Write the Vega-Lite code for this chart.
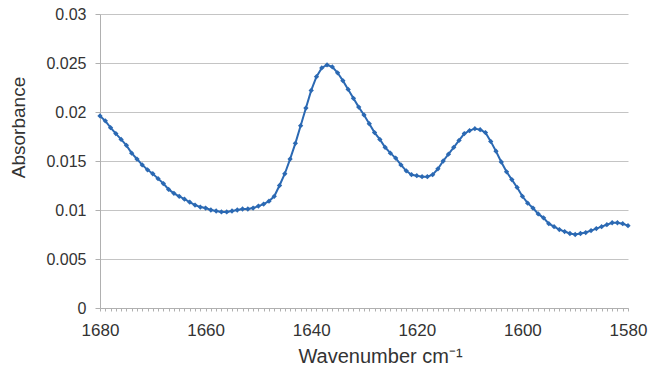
{
  "$schema": "https://vega.github.io/schema/vega-lite/v6.json",
  "width": 528,
  "height": 294,
  "autosize": "none",
  "padding": {"left": 100, "top": 14, "right": 25, "bottom": 68},
  "background": "white",
  "config": {"view": {"stroke": null}, "font": "Liberation Sans"},
  "data": {"values": [
    {"wn": 1680, "abs": 0.0196}, {"wn": 1679, "abs": 0.0191}, {"wn": 1678, "abs": 0.0184}, {"wn": 1677, "abs": 0.0178},
    {"wn": 1676, "abs": 0.0172}, {"wn": 1675, "abs": 0.0166}, {"wn": 1674, "abs": 0.0158}, {"wn": 1673, "abs": 0.0152},
    {"wn": 1672, "abs": 0.0146}, {"wn": 1671, "abs": 0.0141}, {"wn": 1670, "abs": 0.0137}, {"wn": 1669, "abs": 0.0132},
    {"wn": 1668, "abs": 0.0127}, {"wn": 1667, "abs": 0.0121}, {"wn": 1666, "abs": 0.0117}, {"wn": 1665, "abs": 0.0114},
    {"wn": 1664, "abs": 0.0111}, {"wn": 1663, "abs": 0.0108}, {"wn": 1662, "abs": 0.0105}, {"wn": 1661, "abs": 0.0103},
    {"wn": 1660, "abs": 0.0102}, {"wn": 1659, "abs": 0.0100}, {"wn": 1658, "abs": 0.0099}, {"wn": 1657, "abs": 0.0098},
    {"wn": 1656, "abs": 0.0098}, {"wn": 1655, "abs": 0.0099}, {"wn": 1654, "abs": 0.0100}, {"wn": 1653, "abs": 0.0101},
    {"wn": 1652, "abs": 0.0101}, {"wn": 1651, "abs": 0.0102}, {"wn": 1650, "abs": 0.0104}, {"wn": 1649, "abs": 0.0106},
    {"wn": 1648, "abs": 0.0109}, {"wn": 1647, "abs": 0.0114}, {"wn": 1646, "abs": 0.0125}, {"wn": 1645, "abs": 0.0137},
    {"wn": 1644, "abs": 0.0152}, {"wn": 1643, "abs": 0.0168}, {"wn": 1642, "abs": 0.0186}, {"wn": 1641, "abs": 0.0204},
    {"wn": 1640, "abs": 0.0222}, {"wn": 1639, "abs": 0.0236}, {"wn": 1638, "abs": 0.0245}, {"wn": 1637, "abs": 0.0248},
    {"wn": 1636, "abs": 0.0246}, {"wn": 1635, "abs": 0.0240}, {"wn": 1634, "abs": 0.0232}, {"wn": 1633, "abs": 0.0223},
    {"wn": 1632, "abs": 0.0214}, {"wn": 1631, "abs": 0.0205}, {"wn": 1630, "abs": 0.0197}, {"wn": 1629, "abs": 0.0188},
    {"wn": 1628, "abs": 0.0179}, {"wn": 1627, "abs": 0.0172}, {"wn": 1626, "abs": 0.0164}, {"wn": 1625, "abs": 0.0158},
    {"wn": 1624, "abs": 0.0153}, {"wn": 1623, "abs": 0.0146}, {"wn": 1622, "abs": 0.0140}, {"wn": 1621, "abs": 0.0136},
    {"wn": 1620, "abs": 0.0135}, {"wn": 1619, "abs": 0.0134}, {"wn": 1618, "abs": 0.0134}, {"wn": 1617, "abs": 0.0136},
    {"wn": 1616, "abs": 0.0142}, {"wn": 1615, "abs": 0.0150}, {"wn": 1614, "abs": 0.0157}, {"wn": 1613, "abs": 0.0164},
    {"wn": 1612, "abs": 0.0171}, {"wn": 1611, "abs": 0.0178}, {"wn": 1610, "abs": 0.0181}, {"wn": 1609, "abs": 0.0183},
    {"wn": 1608, "abs": 0.0182}, {"wn": 1607, "abs": 0.0179}, {"wn": 1606, "abs": 0.0170}, {"wn": 1605, "abs": 0.0160},
    {"wn": 1604, "abs": 0.0149}, {"wn": 1603, "abs": 0.0139}, {"wn": 1602, "abs": 0.0131}, {"wn": 1601, "abs": 0.0123},
    {"wn": 1600, "abs": 0.0114}, {"wn": 1599, "abs": 0.0107}, {"wn": 1598, "abs": 0.0102}, {"wn": 1597, "abs": 0.0096},
    {"wn": 1596, "abs": 0.0092}, {"wn": 1595, "abs": 0.0086}, {"wn": 1594, "abs": 0.0083}, {"wn": 1593, "abs": 0.0080},
    {"wn": 1592, "abs": 0.0078}, {"wn": 1591, "abs": 0.0076}, {"wn": 1590, "abs": 0.0075}, {"wn": 1589, "abs": 0.0076},
    {"wn": 1588, "abs": 0.0077}, {"wn": 1587, "abs": 0.0079}, {"wn": 1586, "abs": 0.0081}, {"wn": 1585, "abs": 0.0083},
    {"wn": 1584, "abs": 0.0085}, {"wn": 1583, "abs": 0.0087}, {"wn": 1582, "abs": 0.0087}, {"wn": 1581, "abs": 0.0086},
    {"wn": 1580, "abs": 0.0084}
  ]},
  "mark": {"type": "line", "color": "#2B69B3", "strokeWidth": 2,
    "point": {"shape": "diamond", "size": 28, "filled": true, "color": "#2B69B3"}},
  "encoding": {
    "x": {"field": "wn", "type": "quantitative",
      "scale": {"domain": [1680, 1580], "nice": false, "zero": false},
      "axis": {
        "title": "Wavenumber cm⁻¹",
        "values": [1680,1679,1678,1677,1676,1675,1674,1673,1672,1671,1670,1669,1668,1667,1666,1665,1664,1663,1662,1661,1660,1659,1658,1657,1656,1655,1654,1653,1652,1651,1650,1649,1648,1647,1646,1645,1644,1643,1642,1641,1640,1639,1638,1637,1636,1635,1634,1633,1632,1631,1630,1629,1628,1627,1626,1625,1624,1623,1622,1621,1620,1619,1618,1617,1616,1615,1614,1613,1612,1611,1610,1609,1608,1607,1606,1605,1604,1603,1602,1601,1600,1599,1598,1597,1596,1595,1594,1593,1592,1591,1590,1589,1588,1587,1586,1585,1584,1583,1582,1581,1580],
        "labelExpr": "datum.value % 20 === 0 ? datum.label : ''",
        "labelOverlap": false, "labelFlush": false, "labelBound": false,
        "grid": false, "tickSize": 3, "tickColor": "#b0b0b0",
        "domainColor": "#b0b0b0", "labelFontSize": 17, "labelColor": "#333333",
        "labelPadding": 11, "titleFontSize": 20, "titleFontWeight": "normal",
        "titleColor": "#333333", "titleX": 280, "titleY": 54, "titleBaseline": "alphabetic", "format": "d"
      }},
    "y": {"field": "abs", "type": "quantitative",
      "scale": {"domain": [0, 0.03], "nice": false},
      "axis": {
        "title": "Absorbance", "values": [0, 0.005, 0.01, 0.015, 0.02, 0.025, 0.03],
        "labelExpr": "datum.value === 0 ? '0' : format(datum.value, '')",
        "grid": true, "gridColor": "#c4c4c4", "gridWidth": 1,
        "tickSize": 5, "tickColor": "#b0b0b0", "domainColor": "#b0b0b0",
        "labelFontSize": 16, "labelColor": "#333333", "labelPadding": 9,
        "titleFontSize": 19, "titleFontWeight": "normal", "titleColor": "#333333",
        "titlePadding": 17, "titleY": 113
      }}
  }
}
